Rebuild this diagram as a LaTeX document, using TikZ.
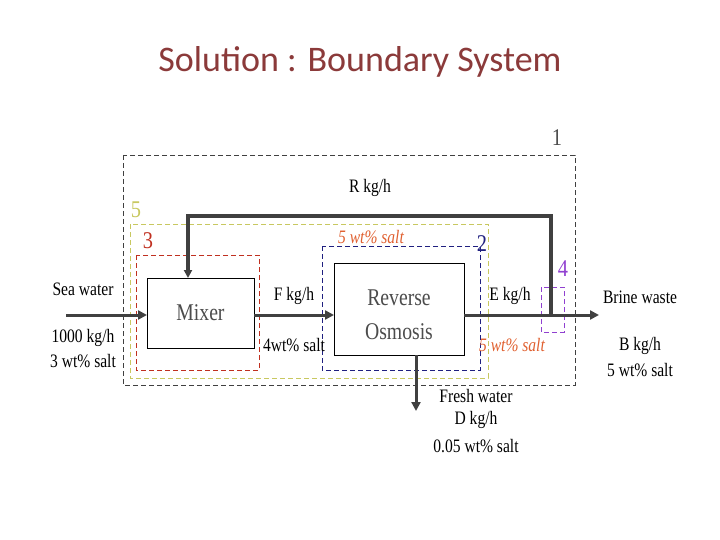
\documentclass[tikz,border=0pt]{standalone}
\usepackage{fontspec}
\setmainfont{Liberation Serif}
\newfontfamily\titlefont{Carlito}
\usetikzlibrary{arrows.meta}
\definecolor{titlec}{HTML}{8B3A3A}
\definecolor{ylw}{HTML}{C8C860}
\definecolor{redb}{HTML}{C03020}
\definecolor{blu}{HTML}{202080}
\definecolor{pur}{HTML}{9040D0}
\definecolor{org}{HTML}{E06030}
\definecolor{flow}{HTML}{404040}
\begin{document}
\begin{tikzpicture}[x=1pt,y=-1pt,
  lbl/.style={font=\fontsize{19}{22}\selectfont, xscale=0.82, inner sep=0},
  olbl/.style={lbl, text=org, font=\fontsize{19}{22}\selectfont\itshape},
  num/.style={font=\fontsize{24}{26}\selectfont, xscale=0.85, inner sep=0},
  bnd/.style={dash pattern=on 5pt off 3pt, line width=0.8pt},
  unit/.style={draw, line width=0.8pt, fill=white},
  stream/.style={flow, line width=3pt, -{Triangle[length=9pt,width=9pt]}}]
\useasboundingbox (0,0) rectangle (720,540);
\node[text=titlec, font=\titlefont\fontsize{36}{40}\selectfont] (title) at (360,62) {Solution : Boundary System};
% boundaries
\draw[bnd, black!75] (123,155) rectangle (575,385);
\draw[bnd, ylw] (130,224) rectangle (488,378);
\draw[bnd, redb] (136,255) rectangle (259,370);
\draw[bnd, blu] (322,246) rectangle (480,370);
\draw[bnd, pur] (541,287) rectangle (564,332);
% units
\node[unit, minimum width=107pt, minimum height=70pt] (mix) at (200.5,313) {};
\node[lbl, font=\fontsize{24}{26}\selectfont, text=black!70] at (mix) {Mixer};
\node[unit, minimum width=130pt, minimum height=92pt] (ro) at (399,309) {};
\node[lbl, font=\fontsize{24}{26}\selectfont, text=black!70, align=center] at (399,315) {Reverse\\[8pt]Osmosis};
% coordinates
\coordinate (sin) at (66,315);
\coordinate (mixin) at (147,315);
\coordinate (mixout) at (254,315);
\coordinate (roin) at (334,315);
\coordinate (roout) at (464,315);
\coordinate (split) at (551,315);
\coordinate (bout) at (599,315);
\coordinate (rtop) at (551,216);
\coordinate (ltop) at (188,216);
\coordinate (mixtop) at (188,278);
\coordinate (fwtop) at (416,355);
\coordinate (fwout) at (416,411);
% streams
\draw[stream] (sin) -- (mixin);
\draw[stream] (mixout) -- (roin);
\draw[flow, line width=3pt] (roout) -- (split);
\draw[stream] (split) -- (bout);
\draw[stream, line width=4.5pt, -{Triangle[length=8pt,width=8pt]}] (split) -- (rtop) -- (ltop) -- (mixtop);
\draw[stream] (fwtop) -- (fwout);
% labels
\node[num, text=black!70] (n1) at (557,138) {1};
\node[num, text=ylw] (n5) at (136,210) {5};
\node[num, text=redb] (n3) at (148,241) {3};
\node[num, text=blu] (n2) at (482,244) {2};
\node[num, text=pur] (n4) at (563,269) {4};
\node[lbl] (r) at (370,188) {R kg/h};
\node[olbl] (s1) at (371,237) {5 wt\% salt};
\node[lbl] (sw) at (83,289) {Sea water};
\node[lbl] (sw2) at (83,338) {1000 kg/h};
\node[lbl] (sw3) at (83,361) {3 wt\% salt};
\node[lbl] (f1) at (294,296) {F kg/h};
\node[lbl] (f2) at (294,345) {4wt\% salt};
\node[lbl] (e1) at (510,296) {E kg/h};
\node[olbl] (e2) at (512,345) {5 wt\% salt};
\node[lbl] (b0) at (640,297) {Brine waste};
\node[lbl] (b1) at (640,346) {B kg/h};
\node[lbl] (b2) at (640,370) {5 wt\% salt};
\node[lbl] (d0) at (476,396) {Fresh water};
\node[lbl] (d1) at (476,420) {D kg/h};
\node[lbl] (d2) at (476,446) {0.05 wt\% salt};
\end{tikzpicture}
\end{document}
